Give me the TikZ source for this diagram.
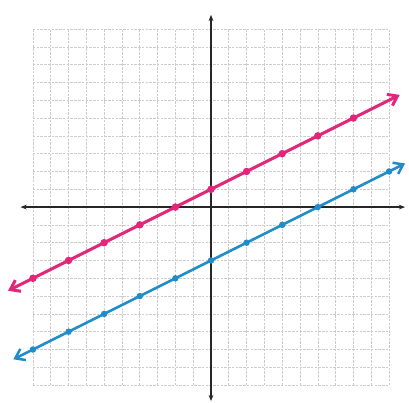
\documentclass[tikz,border=0pt]{standalone}
\usetikzlibrary{arrows.meta}

\definecolor{penpink}{RGB}{228,38,122}
\definecolor{penblue}{RGB}{32,140,200}

\tikzset{
  gridline/.style={gray!40, line width=0.5pt, dash pattern=on 2pt off 1pt},
  axisline/.style={line width=1.5pt, black!85, {Stealth[length=5pt]}-{Stealth[length=5pt]}},
  pinkline/.style={line width=2.4pt, penpink, {Straight Barb[length=7pt,width=10pt]}-{Straight Barb[length=7pt,width=10pt]}},
  blueline/.style={line width=2pt, penblue, {Straight Barb[length=7pt,width=10pt]}-{Straight Barb[length=7pt,width=10pt]}}
}

\begin{document}
\begin{tikzpicture}[x=0.5cm, y=0.5cm]

            \useasboundingbox (-11.85,-10.96) rectangle (11.12,11.63);

            %----- GRID -----
            \draw[gridline, step=0.5cm] (-10,-10) grid (10,10);

            %----- AXES -----
            \draw[axisline] (-10.7,0) -- (10.9,0);
            \draw[axisline] (0,-10.9) -- (0,10.8);

            %----- PINK LINE  y = x/2 + 1 -----
            \draw[pinkline] (-11.4,-4.7) -- (10.6,6.3);
            \foreach \x in {-10,-8,...,8}
                \fill[penpink] (\x,{\x/2+1}) circle (3pt);

            %----- BLUE LINE  y = x/2 - 3 -----
            \draw[blueline] (-11.1,-8.55) -- (10.9,2.45);
            \foreach \x in {-10,-8,...,10}
                \fill[penblue] (\x,{\x/2-3}) circle (2.6pt);

        \end{tikzpicture}
\end{document}
